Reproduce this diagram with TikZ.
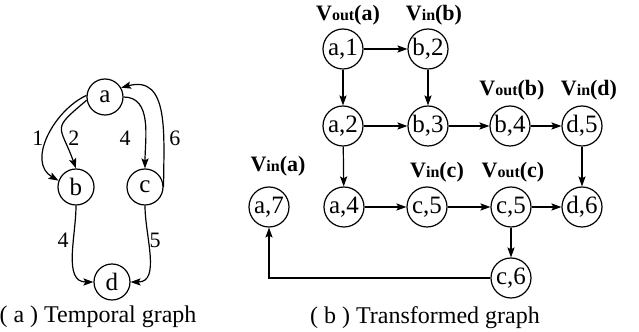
\documentclass[tikz,border=0pt]{standalone}
\usepackage{fontspec}
\setmainfont{Liberation Serif}
\usetikzlibrary{arrows.meta,positioning,calc}

\newcommand{\vlab}[2]{V{\fontsize{8}{8}\selectfont #1}(#2)}

\begin{document}
\begin{tikzpicture}[
  x=0.5pt, y=0.5pt,
  vtx/.style={circle, draw, line width=0.6pt, minimum size=18pt, inner sep=0pt,
              font=\fontsize{12.5}{12.5}\selectfont},
  tvtx/.style={circle, draw, line width=0.6pt, minimum size=20pt, inner sep=0pt,
               font=\fontsize{12.5}{12.5}\selectfont},
  arr/.style={-{Stealth[length=5pt, width=3.6pt, inset=1pt]}, line width=0.6pt},
  elab/.style={font=\fontsize{11}{11}\selectfont, inner sep=0pt},
  vlbl/.style={font=\fontsize{11}{11}\selectfont\bfseries, inner sep=0pt},
  captxt/.style={font=\fontsize{12}{12}\selectfont, inner sep=0pt},
]
\useasboundingbox (0,0) rectangle (639,332);

% (a) temporal graph
\node[vtx] (a) at (105,235) {a};
\node[vtx] (b) at (76,145)  {b};
\node[vtx] (c) at (145,145) {c};
\node[vtx] (d) at (112,50)  {d};

\draw[arr] (a.175) to[out=205, in=150, looseness=1.05] (b.160);
\draw[arr] (a.190) to[out=220, in=110, looseness=1.75] (b.north);
\draw[arr] (a.east) to[out=0, in=90]                   (c.north);
\draw[arr] (c.east) to[out=90, in=15, looseness=1.2]   (a.30);
\draw[arr] (b.south) to[out=-90, in=180]               (d.west);
\draw[arr] (c.south) to[out=-90, in=0]                 (d.east);

\node[elab] (t1) at (38,194)  {1};
\node[elab] (t2) at (74,194)  {2};
\node[elab] (t4) at (125,194) {4};
\node[elab] (t6) at (175,194) {6};
\node[elab] (t7) at (63,92)   {4};
\node[elab] (t5) at (155,92)  {5};

\node[captxt] (capa) at (98,15) {( a ) Temporal graph};

% (b) transformed graph
\node[tvtx] (a1)  at (343,283) {a,1};
\node[tvtx] (b2)  at (428,283) {b,2};
\node[tvtx] (a2)  at (343,206) {a,2};
\node[tvtx] (b3)  at (428,206) {b,3};
\node[tvtx] (b4)  at (510,206) {b,4};
\node[tvtx] (d5)  at (582,206) {d,5};
\node[tvtx] (a7)  at (269,125) {a,7};
\node[tvtx] (a4)  at (344,125) {a,4};
\node[tvtx] (c5i) at (427,125) {c,5};
\node[tvtx] (c5o) at (511,125) {c,5};
\node[tvtx] (d6)  at (582,125) {d,6};
\node[tvtx] (c6)  at (511,54)  {c,6};

\node[vlbl] (la1)  at (348,317) {\vlab{out}{a}};
\node[vlbl] (lb2)  at (434,317) {\vlab{in}{b}};
\node[vlbl] (lb4)  at (512,242) {\vlab{out}{b}};
\node[vlbl] (ld5)  at (589,242) {\vlab{in}{d}};
\node[vlbl] (la7)  at (278,166) {\vlab{in}{a}};
\node[vlbl] (lc5i) at (437,160) {\vlab{in}{c}};
\node[vlbl] (lc5o) at (513,160) {\vlab{out}{c}};

\draw[arr] (a1)  -- (b2);
\draw[arr] (a1)  -- (a2);
\draw[arr] (b2)  -- (b3);
\draw[arr] (a2)  -- (b3);
\draw[arr] (a2)  -- (a4);
\draw[arr] (b3)  -- (b4);
\draw[arr] (b4)  -- (d5);
\draw[arr] (d5)  -- (d6);
\draw[arr] (a4)  -- (c5i);
\draw[arr] (c5i) -- (c5o);
\draw[arr] (c5o) -- (d6);
\draw[arr] (c5o) -- (c6);
\draw[arr] (c6)  -| (a7);

\node[captxt] (capb) at (425,14) {( b ) Transformed graph};
\end{tikzpicture}
\end{document}
